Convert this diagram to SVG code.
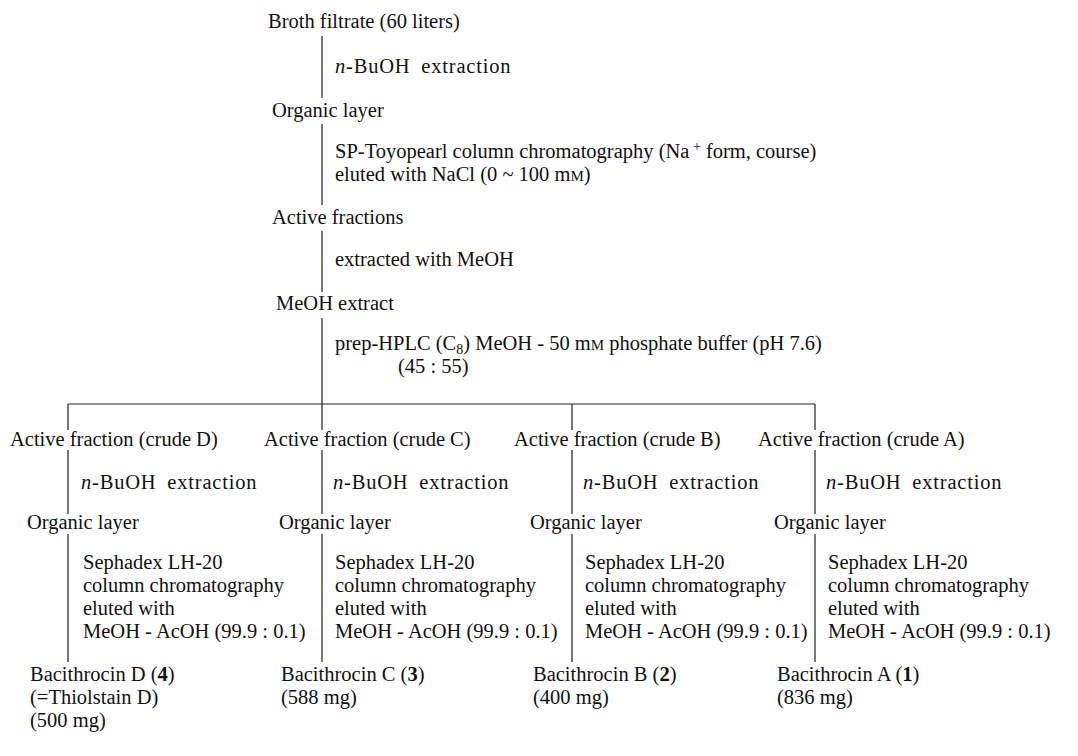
<svg xmlns="http://www.w3.org/2000/svg" width="1078" height="756" viewBox="0 0 1078 756">
<style>
text{font-family:"Liberation Serif","Times New Roman",serif;font-size:20.5px;fill:#111}
.sc{font-size:15px}
.b{font-weight:bold}
.bu{letter-spacing:0.8px;word-spacing:5px}
.ln{stroke:#222;stroke-width:1.2;fill:none}
</style>
<rect width="1078" height="756" fill="#fff"/>
<g id="connectors" class="ln">
<path d="M322 36V98M322 124V205M322 231V292M322 318V404"/>
<path d="M68 404H815"/>
<path d="M68 404V430M68 450V514M68 534V662"/>
<path d="M322 404V430M322 450V514M322 534V662"/>
<path d="M572 404V430M572 450V514M572 534V662"/>
<path d="M815 404V430M815 450V514M815 534V662"/>
</g>
<g id="n_broth"><text x="268" y="28">Broth filtrate (60 liters)</text></g>
<g id="s1"><text class="bu" x="335" y="73"><tspan font-style="italic">n</tspan>-BuOH extraction</text></g>
<g id="n_org"><text x="272" y="117">Organic layer</text></g>
<g id="s2"><text x="335" y="158">SP-Toyopearl column chromatography (Na<tspan dy="-7" font-size="14"> +</tspan><tspan dy="7">  form, course)</tspan></text>
<text x="335" y="181">eluted with NaCl (0 ~ 100 m<tspan class="sc">M</tspan>)</text></g>
<g id="n_act"><text x="272" y="224">Active fractions</text></g>
<g id="s3"><text x="335" y="266">extracted with MeOH</text></g>
<g id="n_meoh"><text x="276" y="310">MeOH extract</text></g>
<g id="s4"><text x="335" y="350">prep-HPLC (C<tspan dy="4" font-size="14">8</tspan><tspan dy="-4">) MeOH - 50 m</tspan><tspan class="sc">M</tspan> phosphate buffer (pH 7.6)</text>
<text x="398" y="373">(45 : 55)</text></g>
<g id="n_fD"><text x="10" y="446">Active fraction (crude D)</text></g>
<g id="n_fC"><text x="264" y="446">Active fraction (crude C)</text></g>
<g id="n_fB"><text x="514" y="446">Active fraction (crude B)</text></g>
<g id="n_fA"><text x="758" y="446">Active fraction (crude A)</text></g>
<g id="s_D1"><text class="bu" x="81" y="489"><tspan font-style="italic">n</tspan>-BuOH extraction</text></g>
<g id="s_C1"><text class="bu" x="333" y="489"><tspan font-style="italic">n</tspan>-BuOH extraction</text></g>
<g id="s_B1"><text class="bu" x="583" y="489"><tspan font-style="italic">n</tspan>-BuOH extraction</text></g>
<g id="s_A1"><text class="bu" x="826" y="489"><tspan font-style="italic">n</tspan>-BuOH extraction</text></g>
<g id="n_oD"><text x="27" y="529">Organic layer</text></g>
<g id="n_oC"><text x="279" y="529">Organic layer</text></g>
<g id="n_oB"><text x="530" y="529">Organic layer</text></g>
<g id="n_oA"><text x="774" y="529">Organic layer</text></g>
<g id="s_D2"><text x="83" y="569">Sephadex LH-20</text><text x="83" y="592">column chromatography</text><text x="83" y="615">eluted with</text><text x="83" y="638">MeOH - AcOH (99.9 : 0.1)</text></g>
<g id="s_C2"><text x="335" y="569">Sephadex LH-20</text><text x="335" y="592">column chromatography</text><text x="335" y="615">eluted with</text><text x="335" y="638">MeOH - AcOH (99.9 : 0.1)</text></g>
<g id="s_B2"><text x="585" y="569">Sephadex LH-20</text><text x="585" y="592">column chromatography</text><text x="585" y="615">eluted with</text><text x="585" y="638">MeOH - AcOH (99.9 : 0.1)</text></g>
<g id="s_A2"><text x="828" y="569">Sephadex LH-20</text><text x="828" y="592">column chromatography</text><text x="828" y="615">eluted with</text><text x="828" y="638">MeOH - AcOH (99.9 : 0.1)</text></g>
<g id="n_D"><text x="30" y="681">Bacithrocin D (<tspan class="b">4</tspan>)</text><text x="30" y="704">(=Thiolstain D)</text><text x="30" y="727">(500 mg)</text></g>
<g id="n_C"><text x="281" y="681">Bacithrocin C (<tspan class="b">3</tspan>)</text><text x="281" y="704">(588 mg)</text></g>
<g id="n_B"><text x="533" y="681">Bacithrocin B (<tspan class="b">2</tspan>)</text><text x="533" y="704">(400 mg)</text></g>
<g id="n_A"><text x="777" y="681">Bacithrocin A (<tspan class="b">1</tspan>)</text><text x="777" y="704">(836 mg)</text></g>
</svg>
